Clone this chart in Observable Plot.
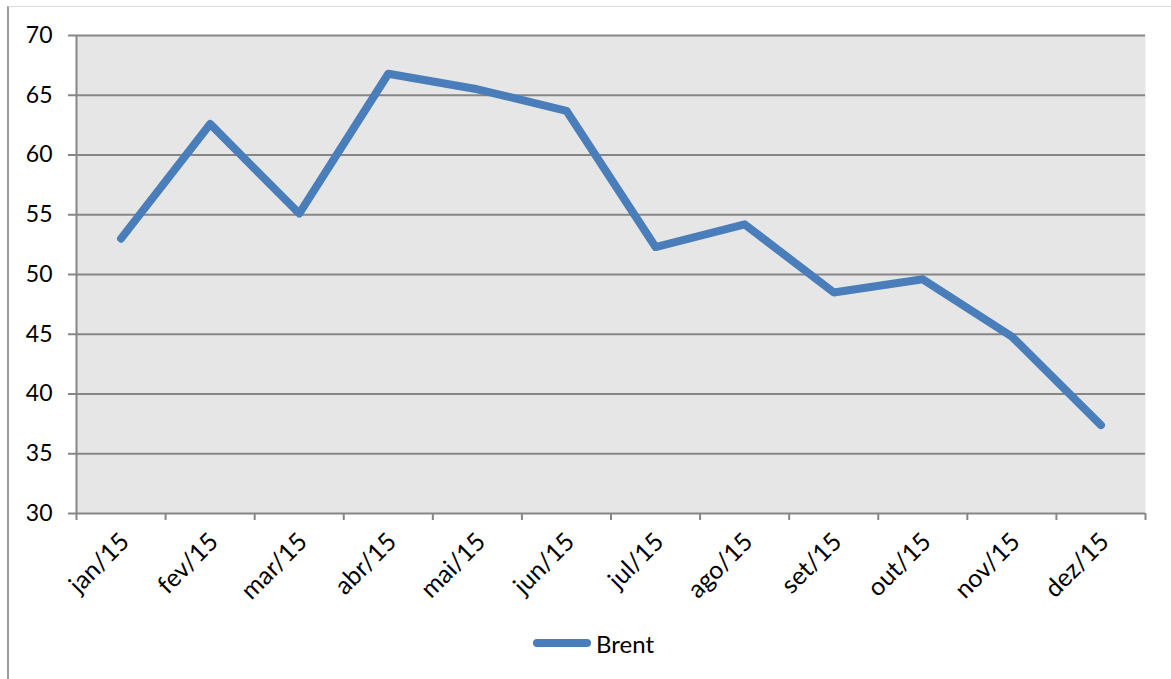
<!DOCTYPE html>
<html><head><meta charset="utf-8">
<script src="https://cdn.jsdelivr.net/npm/d3@7"></script>
<script src="https://cdn.jsdelivr.net/npm/@observablehq/plot@0.6"></script>
<style>
body{margin:0;background:#fff;font-family:Lato,"Open Sans",sans-serif;}
#wrap{position:relative;width:1171px;height:679px;overflow:hidden;}
#frame{position:absolute;left:7px;top:6px;right:0;bottom:0;border-left:2px solid #9a9a9a;border-top:1px solid #dcdcdc;}
#chart{position:absolute;left:0;top:0;}
#chart svg text{font-family:Lato,"Open Sans",sans-serif !important;}
#chart svg g.ylab text{font-size:23px !important;}
#chart svg g.xlab text{font-size:25px !important;}
#legend{position:absolute;top:628px;left:533px;height:30px;display:flex;align-items:center;font-size:24px;color:#000;}
.sw{width:58px;height:8px;border-radius:4px;background:#4a7ebb;margin-right:5px;}
</style></head>
<body>
<div id="wrap"><div id="frame"></div><div id="chart"></div>
<div id="legend"><div class="sw"></div><span id="lgname"></span></div></div>
<script>
const months = ["jan/15","fev/15","mar/15","abr/15","mai/15","jun/15","jul/15","ago/15","set/15","out/15","nov/15","dez/15"];
const brent = [53.0, 62.6, 55.1, 66.8, 65.5, 63.7, 52.3, 54.2, 48.5, 49.6, 44.8, 37.4];
const yTicks = [30, 35, 40, 45, 50, 55, 60, 65, 70];
const seriesName = "Brent";

const data = months.map((m, i) => ({pos: i + 0.5, month: m, value: brent[i]}));
const boundaries = d3.range(months.length + 1);
const centers = data.map(d => d.pos);
const gridColor = "#868686";

const chart = Plot.plot({
  width: 1171,
  height: 679,
  marginLeft: 76,
  marginRight: 26,
  marginTop: 35,
  marginBottom: 166,
  style: {fontFamily: "Lato, 'Open Sans', sans-serif", fontSize: "23px", color: "#000", background: "transparent"},
  x: {type: "linear", domain: [0, months.length]},
  y: {domain: [30, 70]},
  marks: [
    Plot.frame({fill: "#e6e6e6", stroke: null}),
    Plot.gridY(yTicks, {stroke: gridColor, strokeOpacity: 1, strokeWidth: 2}),
    Plot.ruleX([0], {stroke: gridColor, strokeWidth: 2}),
    Plot.axisY({ticks: yTicks, tickSize: 8, tickPadding: 16, stroke: gridColor, strokeWidth: 2, fill: "#000", fontSize: 23, label: null, className: "ylab"}),
    Plot.axisX({ticks: boundaries, tickSize: 7, tickFormat: () => "", stroke: gridColor, strokeWidth: 2, label: null}),
    Plot.axisX({ticks: centers, tickSize: 0, tickRotate: -45, tickPadding: 24, tickFormat: d => months[Math.floor(d)], fill: "#000", fontSize: 25, label: null, dx: 4, className: "xlab"}),
    Plot.line(data, {x: "pos", y: "value", stroke: "#4a7ebb", strokeWidth: 8, strokeLinecap: "round", strokeLinejoin: "round"})
  ]
});
document.getElementById("chart").appendChild(chart);
document.getElementById("lgname").textContent = seriesName;
</script>
</body></html>
